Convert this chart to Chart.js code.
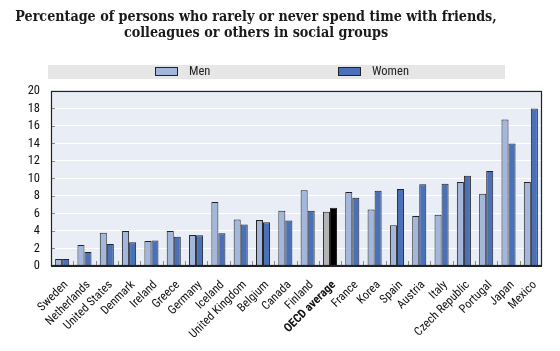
<!DOCTYPE html>
<html>
<head>
<meta charset="utf-8">
<script src="https://cdn.jsdelivr.net/npm/chart.js@4.4.0/dist/chart.umd.min.js"></script>
<style>
    html, body { margin: 0; padding: 0; background: #fff; }
</style>
</head>
<body>
<canvas id="chart" width="560" height="351"></canvas>
<script>
// Data
const countries = [
    "Sweden", "Netherlands", "United States", "Denmark", "Ireland", "Greece", "Germany",
    "Iceland", "United Kingdom", "Belgium", "Canada", "Finland", "OECD average", "France",
    "Korea", "Spain", "Austria", "Italy", "Czech Republic", "Portugal", "Japan", "Mexico"
];
const men = [0.8, 2.4, 3.8, 4.0, 2.85, 4.0, 3.55, 7.3, 5.3, 5.25, 6.3, 8.65, 6.2, 8.45, 6.45, 4.65, 5.7, 5.85, 9.6, 8.25, 16.75, 9.6];
const women = [0.8, 1.6, 2.5, 2.7, 2.9, 3.35, 3.5, 3.75, 4.75, 5.0, 5.2, 6.3, 6.65, 7.8, 8.6, 8.8, 9.35, 9.4, 10.3, 10.85, 14.0, 18.0];
const seriesNames = ["Men", "Women"];
const highlight = "OECD average";

const MEN_COLOR = '#a3b7dc';
const WOMEN_COLOR = '#4a70b7';
const NARROW = '"Roboto Condensed", "Liberation Sans", sans-serif';

// Фон области графика, мелкие засечки, рамка и легенда-полоса
const decorPlugin = {
    id: 'decor',
    afterLayout(chart) {
        // заголовок в оригинале чуть левее центра
        chart.titleBlock.left -= 15;
        chart.titleBlock.right -= 15;
    },
    beforeDraw(chart) {
        const {ctx, chartArea: a} = chart;
        ctx.save();
        ctx.fillStyle = '#e9eef6';
        ctx.fillRect(a.left, a.top, a.width, a.height);
        ctx.restore();
    },
    afterDatasetsDraw(chart) {
        const {ctx, chartArea: a, scales} = chart;
        ctx.save();
        ctx.strokeStyle = '#8a8a8a';
        ctx.lineWidth = 1;
        scales.y.ticks.forEach(t => {
            const y = Math.round(scales.y.getPixelForValue(t.value)) + 0.5;
            ctx.beginPath();
            ctx.moveTo(a.left, y);
            ctx.lineTo(a.left + 4, y);
            ctx.stroke();
        });
        for (let i = 1; i < countries.length; i++) {
            const x = Math.round((scales.x.getPixelForValue(i - 1) + scales.x.getPixelForValue(i)) / 2) + 0.5;
            ctx.beginPath();
            ctx.moveTo(x, a.bottom);
            ctx.lineTo(x, a.bottom - 5);
            ctx.stroke();
        }
        ctx.strokeStyle = '#222';
        ctx.lineWidth = 1.2;
        ctx.strokeRect(a.left + 0.5, a.top + 0.5, a.width - 1, a.height - 1);
        ctx.lineWidth = 2;
        ctx.beginPath();
        ctx.moveTo(a.left, a.bottom);
        ctx.lineTo(a.right, a.bottom);
        ctx.stroke();
        ctx.restore();
    },
    afterDraw(chart) {
        const {ctx, chartArea: a} = chart;
        ctx.save();
        ctx.fillStyle = '#e6e6e6';
        ctx.fillRect(a.left - 3, 65, 457, 14);
        const items = [
            {x: 155, label: chart.data.datasets[0].label, color: MEN_COLOR},
            {x: 338, label: chart.data.datasets[1].label, color: WOMEN_COLOR}
        ];
        items.forEach(it => {
            ctx.fillStyle = it.color;
            ctx.fillRect(it.x, 67.5, 23, 8);
            ctx.strokeStyle = '#222';
            ctx.lineWidth = 1;
            ctx.strokeRect(it.x + 0.5, 67.5, 22, 8);
            ctx.fillStyle = '#222';
            ctx.font = '12.5px ' + NARROW;
            ctx.textBaseline = 'middle';
            ctx.fillText(it.label, it.x + 34, 72);
        });
        ctx.restore();
    }
};

const barColors = (base, special) => countries.map(c => c === highlight ? special : base);

const config = {
    type: 'bar',
    data: {
        labels: countries,
        datasets: [
            {
                label: seriesNames[0],
                data: men,
                backgroundColor: barColors(MEN_COLOR, '#b4b4b4'),
                borderColor: '#222',
                borderWidth: 1
            },
            {
                label: seriesNames[1],
                data: women,
                backgroundColor: barColors(WOMEN_COLOR, '#000'),
                borderColor: '#222',
                borderWidth: 1
            }
        ]
    },
    options: {
        responsive: false,
        animation: false,
        categoryPercentage: 0.63,
        barPercentage: 1.0,
        layout: {padding: {left: 0, right: 18, top: 0, bottom: 0}},
        plugins: {
            legend: {display: false},
            tooltip: {enabled: false},
            title: {
                display: true,
                text: ["Percentage of persons who rarely or never spend time with friends,",
                       "colleagues or others in social groups"],
                color: '#1a1a1a',
                font: {family: '"DejaVu Serif Condensed", "DejaVu Serif", serif', size: 14.2, weight: 'bold', lineHeight: 1.16},
                padding: {top: 9, bottom: 49}
            }
        },
        scales: {
            x: {
                offset: true,
                grid: {display: false},
                border: {display: false},
                ticks: {
                    autoSkip: false,
                    minRotation: 45,
                    maxRotation: 45,
                    padding: 4,
                    labelOffset: 4,
                    color: '#111',
                    font: ctx => ({
                        family: NARROW,
                        size: 12,
                        weight: ctx.tick && ctx.tick.label === highlight ? 'bold' : 'normal'
                    })
                },
                afterFit: scale => { scale.height = 85; }
            },
            y: {
                min: 0,
                max: 20,
                grid: {color: '#ffffff', lineWidth: 1, drawTicks: false},
                border: {display: false},
                ticks: {
                    stepSize: 2,
                    autoSkip: false,
                    padding: 11,
                    color: '#111',
                    font: {family: NARROW, size: 12.5}
                },
                afterFit: scale => { scale.width = 51; }
            }
        }
    },
    plugins: [decorPlugin]
};

new Chart(document.getElementById('chart').getContext('2d'), config);
</script>
</body>
</html>
